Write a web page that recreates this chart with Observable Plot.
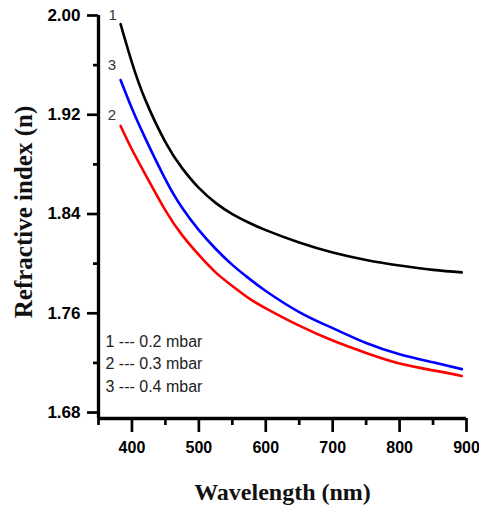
<!DOCTYPE html>
<html>
<head>
<meta charset="utf-8">
<script src="https://cdn.jsdelivr.net/npm/d3@7"></script>
<script src="https://cdn.jsdelivr.net/npm/@observablehq/plot@0.6"></script>
<style>
  html, body { margin: 0; padding: 0; background: #fff; }
  #chart svg { display: block; }
</style>
</head>
<body>
<div id="chart"></div>
<script>
// Wavelength sample points (nm)
const wavelength = [383, 400, 420, 450, 475, 500, 525, 550, 575, 600, 650, 700, 750, 800, 850, 893];
// Refractive index per pressure
const n_02 = [1.993, 1.962, 1.932, 1.898, 1.877, 1.861, 1.849, 1.840, 1.833, 1.827, 1.817, 1.809, 1.803, 1.7985, 1.795, 1.793];
const n_03 = [1.911, 1.892, 1.872, 1.843, 1.823, 1.807, 1.793, 1.782, 1.772, 1.764, 1.750, 1.738, 1.728, 1.7195, 1.714, 1.7095];
const n_04 = [1.948, 1.925, 1.901, 1.868, 1.845, 1.827, 1.812, 1.799, 1.788, 1.778, 1.761, 1.748, 1.736, 1.727, 1.7205, 1.715];

const seriesNames = ["1", "2", "3"];
const seriesColors = ["#000000", "#ff0000", "#0000ff"];
const legendLines = ["1 --- 0.2 mbar", "2 --- 0.3 mbar", "3 --- 0.4 mbar"];

// Curve number labels near curve starts
const curveLabels = [
  {label: "1", w: 371, n: 2.000},
  {label: "3", w: 370, n: 1.960},
  {label: "2", w: 370, n: 1.920}
];

const xMajor = [400, 500, 600, 700, 800, 900];
const xMinor = [350, 450, 550, 650, 750, 850];
const yMajor = [1.68, 1.76, 1.84, 1.92, 2.00];
const yMinor = [1.72, 1.80, 1.88, 1.96];

const xDomain = [350, 900];
const yDomain = [1.6752, 2.0];

const seriesValues = [n_02, n_03, n_04];
const data = [];
seriesNames.forEach((s, i) => {
  wavelength.forEach((w, j) => data.push({series: s, w, n: seriesValues[i][j]}));
});

const sans = "'Liberation Sans', Arial, sans-serif";
const serif = "'Liberation Serif', 'Times New Roman', serif";

const chart = Plot.plot({
  width: 479,
  height: 506,
  marginLeft: 98,
  marginTop: 15,
  marginRight: 13,
  marginBottom: 88,
  style: {fontFamily: sans, background: "#fff", color: "#000"},
  x: {domain: xDomain},
  y: {domain: yDomain},
  color: {domain: seriesNames, range: seriesColors},
  marks: [
    Plot.line(data, {x: "w", y: "n", stroke: "series", strokeWidth: 2.6, curve: "natural"}),
    Plot.axisY(yMajor, {tickSize: 11, tickPadding: 7, strokeWidth: 2.7, tickFormat: d3.format(".2f"),
      fontSize: 17, fontWeight: "bold", fontFamily: sans, label: null}),
    Plot.axisY(yMinor, {tickSize: 5, strokeWidth: 2.7, tickFormat: () => "", label: null}),
    Plot.axisX(xMajor, {tickSize: 14, tickPadding: 9, strokeWidth: 2.7, tickFormat: d => String(d),
      fontSize: 16, fontWeight: "bold", fontFamily: sans, label: null}),
    Plot.axisX(xMinor, {tickSize: 7, strokeWidth: 2.7, tickFormat: () => "", label: null}),
    Plot.ruleX([xDomain[0]], {y1: yDomain[0], y2: yDomain[1], strokeWidth: 3.3}),
    Plot.ruleY([yDomain[0]], {x1: xDomain[0], x2: xDomain[1], strokeWidth: 3.3}),
    Plot.text(curveLabels, {x: "w", y: "n", text: "label", fontSize: 15, fill: "#333", fontFamily: sans}),
    Plot.text([legendLines.join("\n")], {frameAnchor: "bottom-left", textAnchor: "start", lineAnchor: "bottom",
      lineHeight: 1.38, dx: 7, dy: -27, fontSize: 16, fill: "#222", fontFamily: sans}),
    Plot.text(["Wavelength (nm)"], {frameAnchor: "bottom", lineAnchor: "middle", dy: 74,
      fontSize: 24, fontWeight: "bold", fontFamily: serif, fill: "#111"}),
    Plot.text(["Refractive index (n)"], {frameAnchor: "left", textAnchor: "middle", rotate: -90, lineAnchor: "middle",
      dx: -75, dy: -5, fontSize: 25, fontWeight: "bold", fontFamily: serif, fill: "#111"})
  ]
});
document.getElementById("chart").appendChild(chart);
</script>
</body>
</html>
